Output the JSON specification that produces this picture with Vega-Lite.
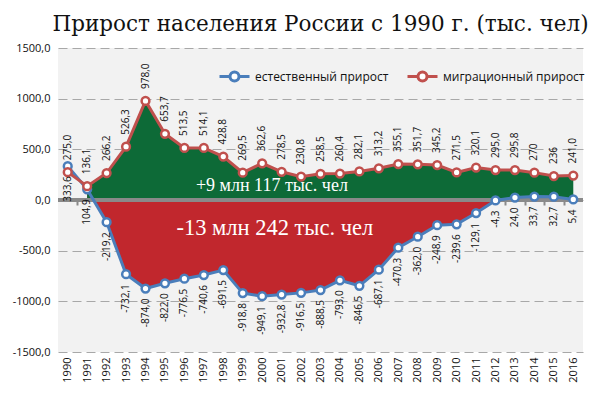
{
  "$schema": "https://vega.github.io/schema/vega-lite/v6.json",
  "autosize": {"type": "none"},
  "padding": {"left": 58, "top": 48, "right": 17, "bottom": 42},
  "width": 525,
  "height": 304,
  "background": "white",
  "title": {
    "text": "Прирост населения России с 1990 г. (тыс. чел)",
    "font": "DejaVu Serif",
    "fontSize": 21.5,
    "fontWeight": "normal",
    "color": "#111111",
    "anchor": "middle",
    "baseline": "top",
    "offset": 7
  },
  "config": {
    "locale": {"number": {"decimal": ",", "thousands": "", "grouping": [3], "currency": ["", ""], "minus": "-"}},
    "view": {"fill": "#f2f2f2", "stroke": null},
    "font": "Open Sans"
  },
  "data": {"values": [
    {"year": 1990, "series": "естественный прирост", "value": 333.6, "label": "333,6"},
    {"year": 1991, "series": "естественный прирост", "value": 104.9, "label": "104,9"},
    {"year": 1992, "series": "естественный прирост", "value": -219.2, "label": "-219,2"},
    {"year": 1993, "series": "естественный прирост", "value": -732.1, "label": "-732,1"},
    {"year": 1994, "series": "естественный прирост", "value": -874.0, "label": "-874,0"},
    {"year": 1995, "series": "естественный прирост", "value": -822.0, "label": "-822,0"},
    {"year": 1996, "series": "естественный прирост", "value": -776.5, "label": "-776,5"},
    {"year": 1997, "series": "естественный прирост", "value": -740.6, "label": "-740,6"},
    {"year": 1998, "series": "естественный прирост", "value": -691.5, "label": "-691,5"},
    {"year": 1999, "series": "естественный прирост", "value": -918.8, "label": "-918,8"},
    {"year": 2000, "series": "естественный прирост", "value": -949.1, "label": "-949,1"},
    {"year": 2001, "series": "естественный прирост", "value": -932.8, "label": "-932,8"},
    {"year": 2002, "series": "естественный прирост", "value": -916.5, "label": "-916,5"},
    {"year": 2003, "series": "естественный прирост", "value": -888.5, "label": "-888,5"},
    {"year": 2004, "series": "естественный прирост", "value": -793.0, "label": "-793,0"},
    {"year": 2005, "series": "естественный прирост", "value": -846.5, "label": "-846,5"},
    {"year": 2006, "series": "естественный прирост", "value": -687.1, "label": "-687,1"},
    {"year": 2007, "series": "естественный прирост", "value": -470.3, "label": "-470,3"},
    {"year": 2008, "series": "естественный прирост", "value": -362.0, "label": "-362,0"},
    {"year": 2009, "series": "естественный прирост", "value": -248.9, "label": "-248,9"},
    {"year": 2010, "series": "естественный прирост", "value": -239.6, "label": "-239,6"},
    {"year": 2011, "series": "естественный прирост", "value": -129.1, "label": "-129,1"},
    {"year": 2012, "series": "естественный прирост", "value": -4.3, "label": "-4,3"},
    {"year": 2013, "series": "естественный прирост", "value": 24.0, "label": "24,0"},
    {"year": 2014, "series": "естественный прирост", "value": 33.7, "label": "33,7"},
    {"year": 2015, "series": "естественный прирост", "value": 32.7, "label": "32,7"},
    {"year": 2016, "series": "естественный прирост", "value": 5.4, "label": "5,4"},
    {"year": 1990, "series": "миграционный прирост", "value": 275.0, "label": "275,0"},
    {"year": 1991, "series": "миграционный прирост", "value": 136.1, "label": "136,1"},
    {"year": 1992, "series": "миграционный прирост", "value": 266.2, "label": "266,2"},
    {"year": 1993, "series": "миграционный прирост", "value": 526.3, "label": "526,3"},
    {"year": 1994, "series": "миграционный прирост", "value": 978.0, "label": "978,0"},
    {"year": 1995, "series": "миграционный прирост", "value": 653.7, "label": "653,7"},
    {"year": 1996, "series": "миграционный прирост", "value": 513.5, "label": "513,5"},
    {"year": 1997, "series": "миграционный прирост", "value": 514.1, "label": "514,1"},
    {"year": 1998, "series": "миграционный прирост", "value": 428.8, "label": "428,8"},
    {"year": 1999, "series": "миграционный прирост", "value": 269.5, "label": "269,5"},
    {"year": 2000, "series": "миграционный прирост", "value": 362.6, "label": "362,6"},
    {"year": 2001, "series": "миграционный прирост", "value": 278.5, "label": "278,5"},
    {"year": 2002, "series": "миграционный прирост", "value": 230.8, "label": "230,8"},
    {"year": 2003, "series": "миграционный прирост", "value": 258.5, "label": "258,5"},
    {"year": 2004, "series": "миграционный прирост", "value": 260.4, "label": "260,4"},
    {"year": 2005, "series": "миграционный прирост", "value": 282.1, "label": "282,1"},
    {"year": 2006, "series": "миграционный прирост", "value": 313.2, "label": "313,2"},
    {"year": 2007, "series": "миграционный прирост", "value": 355.1, "label": "355,1"},
    {"year": 2008, "series": "миграционный прирост", "value": 351.7, "label": "351,7"},
    {"year": 2009, "series": "миграционный прирост", "value": 345.2, "label": "345,2"},
    {"year": 2010, "series": "миграционный прирост", "value": 271.5, "label": "271,5"},
    {"year": 2011, "series": "миграционный прирост", "value": 320.1, "label": "320,1"},
    {"year": 2012, "series": "миграционный прирост", "value": 295.0, "label": "295,0"},
    {"year": 2013, "series": "миграционный прирост", "value": 295.8, "label": "295,8"},
    {"year": 2014, "series": "миграционный прирост", "value": 270, "label": "270"},
    {"year": 2015, "series": "миграционный прирост", "value": 236, "label": "236"},
    {"year": 2016, "series": "миграционный прирост", "value": 241.0, "label": "241,0"}
  ]},
  "resolve": {"axis": {"x": "independent"}},
  "layer": [
    {
      "encoding": {
        "x": {
          "field": "year", "type": "quantitative",
          "scale": {"domain": [1989.5, 2016.5], "nice": false, "zero": false},
          "axis": {
            "title": null,
            "values": [1990,1991,1992,1993,1994,1995,1996,1997,1998,1999,2000,2001,2002,2003,2004,2005,2006,2007,2008,2009,2010,2011,2012,2013,2014,2015,2016],
            "format": "d",
            "labelAngle": -90,
            "labelAlign": "right",
            "labelBaseline": "middle",
            "labelPadding": 5,
            "labelFontSize": 11,
            "labelColor": "#111111",
            "labelFont": "Open Sans",
            "grid": false, "domain": false, "ticks": false
          }
        },
        "y": {
          "field": "value", "type": "quantitative",
          "scale": {"domain": [-1500, 1500], "nice": false},
          "axis": {
            "title": null,
            "values": [-1500, -1000, -500, 0, 500, 1000, 1500],
            "format": ".1f",
            "labelFontSize": 11,
            "labelColor": "#111111",
            "labelFont": "Open Sans",
            "labelPadding": 8,
            "grid": true, "gridColor": "#a8a8a8", "gridDash": [9, 5], "gridWidth": 1,
            "domain": false, "ticks": false
          }
        }
      },
      "layer": [
        {
          "transform": [{"filter": "datum.series === 'естественный прирост' && datum.year >= 1991 && datum.year <= 2012"}],
          "mark": {"type": "area", "color": "#c1272d", "opacity": 1},
          "encoding": {"y2": {"datum": 0}}
        },
        {
          "transform": [{"filter": "datum.series === 'миграционный прирост' && datum.year >= 1991"}],
          "mark": {"type": "area", "color": "#0d6a37", "opacity": 1},
          "encoding": {"y2": {"datum": 0}}
        },
        {
          "mark": {"type": "rule", "color": "#8a8a8a", "strokeWidth": 3},
          "encoding": {"y": {"datum": 0}, "x": null}
        },
        {
          "mark": {"type": "line", "strokeWidth": 3},
          "encoding": {
            "stroke": {
              "field": "series", "type": "nominal",
              "scale": {"domain": ["естественный прирост", "миграционный прирост"], "range": ["#4a7ebb", "#c0504d"]},
              "legend": {
                "title": null,
                "orient": "none",
                "legendX": 160,
                "legendY": 12,
                "direction": "horizontal",
                "symbolType": "M-1,0H-0.3M0.3,0H1M-0.3,0A0.3,0.3 0 1,1 0.3,0A0.3,0.3 0 1,1 -0.3,0",
                "symbolSize": 900,
                "symbolStrokeWidth": 3,
                "symbolFillColor": "white",
                "labelFont": "Open Sans",
                "labelFontSize": 12,
                "labelLimit": 250,
                "labelColor": "#111111",
                "labelOffset": 4,
                "columnPadding": 12,
                "encode": {"symbols": {"update": {"fill": {"value": "white"}, "opacity": {"value": 1}}}}
              }
            }
          }
        },
        {
          "mark": {"type": "point", "filled": true, "fill": "white", "strokeWidth": 2.5, "size": 60, "opacity": 1},
          "encoding": {
            "stroke": {"field": "series", "type": "nominal", "legend": null}
          }
        },
        {
          "transform": [{"filter": "datum.series === 'миграционный прирост'"}],
          "mark": {"type": "text", "angle": 270, "align": "left", "baseline": "middle", "dx": 12, "fontSize": 10, "font": "Open Sans", "color": "#111111"},
          "encoding": {"text": {"field": "label"}}
        },
        {
          "transform": [{"filter": "datum.series === 'естественный прирост'"}],
          "mark": {"type": "text", "angle": 270, "align": "right", "baseline": "middle", "dx": -10, "fontSize": 10, "font": "Open Sans", "color": "#111111"},
          "encoding": {"text": {"field": "label"}}
        },
        {
          "data": {"values": [
            {"year": 2000.5, "value": 135, "note": "+9 млн 117 тыс. чел", "size": 18},
            {"year": 2000.65, "value": -278, "note": "-13 млн 242 тыс. чел", "size": 22.5}
          ]},
          "mark": {"type": "text", "font": "Liberation Serif", "color": "white", "align": "center", "baseline": "middle"},
          "encoding": {
            "text": {"field": "note"},
            "size": {"field": "size", "type": "quantitative", "scale": null, "legend": null}
          }
        }
      ]
    },
    {
      "mark": {"type": "line", "opacity": 0},
      "encoding": {
        "x": {
          "field": "year", "type": "quantitative",
          "axis": {
            "title": null,
            "orient": "bottom",
            "offset": -152,
            "values": [1990.5,1991.5,1992.5,1993.5,1994.5,1995.5,1996.5,1997.5,1998.5,1999.5,2000.5,2001.5,2002.5,2003.5,2004.5,2005.5,2006.5,2007.5,2008.5,2009.5,2010.5,2011.5,2012.5,2013.5,2014.5,2015.5],
            "labels": false, "grid": false, "domain": false,
            "ticks": true, "tickSize": 5, "tickColor": "#8a8a8a", "tickWidth": 2
          }
        },
        "y": {"datum": 0}
      }
    }
  ]
}
